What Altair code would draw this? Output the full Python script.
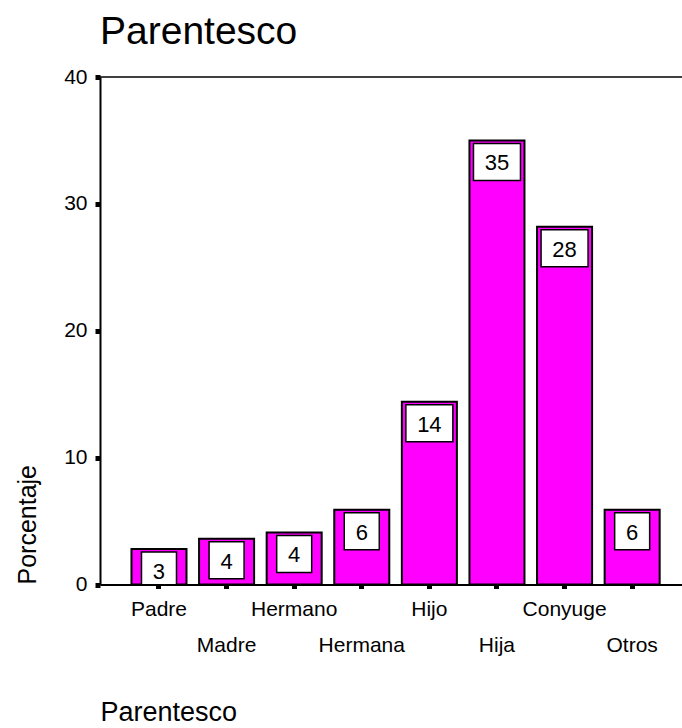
import altair as alt
import pandas as pd

# Kinship of respondents, percentage per category
categories = ["Padre", "Madre", "Hermano", "Hermana", "Hijo", "Hija", "Conyuge", "Otros"]
percent = [2.8, 3.6, 4.1, 5.9, 14.4, 35.0, 28.2, 5.9]
y_ticks = [0, 10, 20, 30, 40]

FONT = "Liberation Sans"
MAGENTA = "#FF00FF"

df = pd.DataFrame({"category": categories, "percent": percent})
df["label"] = df["percent"].round().astype(int).astype(str)

# every second category label goes on a lower line
lower_row = categories[1::2]
label_expr = (
    "indexof([" + ",".join("'%s'" % c for c in lower_row) + "], datum.value) >= 0"
    " ? ['', datum.label] : datum.label"
)

x_enc = alt.X(
    "category:N",
    sort=categories,
    scale=alt.Scale(paddingInner=0.186, paddingOuter=0.398, align=0.585),
    axis=alt.Axis(
        title="Parentesco",
        labelAngle=0,
        labelExpr=label_expr,
        labelLineHeight=36,
        labelBaseline="alphabetic",
        labelPadding=26.5,
        labelFontSize=21,
        tickSize=4,
        tickWidth=5,
        titleFontSize=27,
        titleFontWeight="normal",
        titleX=0,
        titleY=135.5,
        titleAlign="left",
        titleBaseline="alphabetic",
        zindex=1,
    ),
)

y_enc = alt.Y(
    "percent:Q",
    scale=alt.Scale(domain=[0, 40], nice=False),
    axis=alt.Axis(
        title="Porcentaje",
        values=y_ticks,
        labelFontSize=21,
        labelPadding=8,
        tickSize=5,
        tickWidth=5,
        titleFontSize=25,
        titleFontWeight="normal",
        titleAngle=-90,
        titleX=-65,
        titleY=507,
        titleAlign="left",
        titleBaseline="alphabetic",
        zindex=1,
    ),
)

base = alt.Chart(df).encode(x=x_enc, y=y_enc)

bars = base.mark_bar(fill=MAGENTA, stroke="black", strokeWidth=2)

# white value boxes just under the top of each bar
box_style = dict(fill="white", stroke="black", strokeWidth=1.5, yOffset=3, y2Offset=40, clip=True)
boxes_narrow = (
    base.mark_bar(width=35, **box_style)
    .encode(y2=alt.Y2("percent"))
    .transform_filter("length(datum.label) == 1")
)
boxes_wide = (
    base.mark_bar(width=47, **box_style)
    .encode(y2=alt.Y2("percent"))
    .transform_filter("length(datum.label) == 2")
)

values = base.mark_text(
    font=FONT, fontSize=22, color="black", baseline="alphabetic", dy=30
).encode(text="label:N")

top_line = (
    alt.Chart(pd.DataFrame({"top": [40]}))
    .mark_rule(color="black", strokeWidth=1.5)
    .encode(y="top:Q")
)

chart = (
    alt.layer(bars, boxes_narrow, boxes_wide, values, top_line)
    .properties(
        width=582,
        height=507.5,
        padding={"left": 100, "top": 77, "right": 0, "bottom": 143.5},
        autosize=alt.AutoSizeParams(type="none"),
        background="white",
        title=alt.TitleParams(
            "Parentesco",
            anchor="start",
            frame="group",
            fontSize=39,
            fontWeight="normal",
            font=FONT,
            color="black",
            baseline="alphabetic",
            offset=24,
            dy=41,
        ),
    )
    .configure_view(stroke=None)
    .configure_axis(
        grid=False,
        domainColor="black",
        domainWidth=2,
        tickColor="black",
        labelColor="black",
        titleColor="black",
        labelFont=FONT,
        titleFont=FONT,
    )
)

chart.save("out.html", embed_options={"renderer": "svg", "actions": False})
